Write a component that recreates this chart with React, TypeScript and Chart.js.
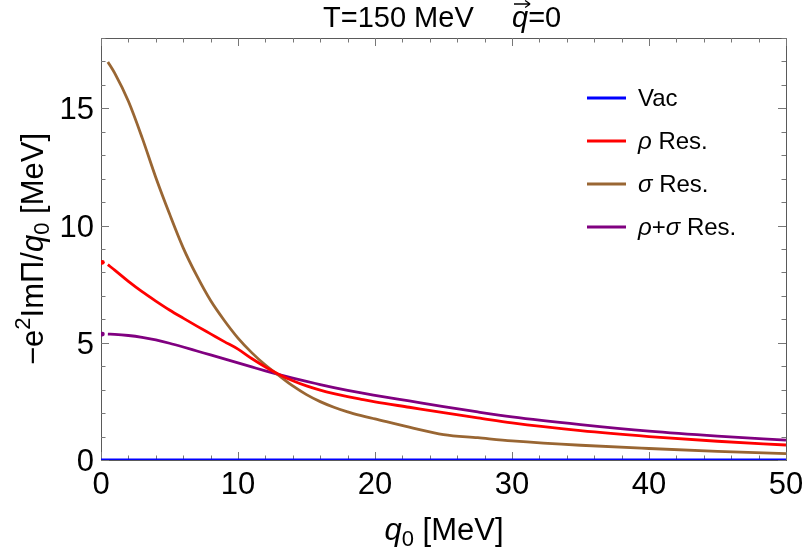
import React, { useEffect, useRef } from "react";
import { Chart, registerables } from "chart.js";

Chart.register(...registerables);

// ---------- data ----------
const q0Grid = [0.5, 1, 2, 3, 4, 5, 6, 7, 8, 9, 10, 11, 12, 13, 14, 15, 16, 17, 18, 19, 20, 22.5, 25, 27.5, 30, 35, 40, 45, 50];
const sigmaRes = [16.98, 16.5, 15.3, 13.75, 12.05, 10.5, 9.05, 7.85, 6.8, 5.95, 5.2, 4.58, 4.05, 3.6, 3.16, 2.79, 2.49, 2.25, 2.05, 1.89, 1.75, 1.4, 1.08, 0.95, 0.82, 0.63, 0.49, 0.37, 0.27];
const rhoRes = [8.33, 8.1, 7.62, 7.18, 6.78, 6.4, 6.05, 5.71, 5.38, 5.05, 4.73, 4.33, 3.97, 3.65, 3.38, 3.16, 2.98, 2.83, 2.7, 2.59, 2.48, 2.25, 2.02, 1.8, 1.58, 1.25, 1.0, 0.8, 0.64];
const rhoSigmaRes = [5.37, 5.36, 5.31, 5.23, 5.12, 4.98, 4.82, 4.65, 4.48, 4.31, 4.14, 3.97, 3.8, 3.64, 3.49, 3.35, 3.22, 3.09, 2.97, 2.86, 2.76, 2.52, 2.28, 2.05, 1.84, 1.51, 1.23, 1.02, 0.85];
const vacQ0 = [0, 50];
const vacVals = [0, 0];
// isolated values at q0 -> 0
const dotQ0 = 0.1;
const rhoDot = 8.43;
const rhoSigmaDot = 5.37;

const xTicks = [0, 10, 20, 30, 40, 50];
const yTicks = [0, 5, 10, 15];
const xMinorStep = 2;
const yMinorStep = 1;

type Seg = { t: string; i?: boolean; sup?: boolean; sub?: boolean };

const legendLabels: Seg[][] = [
  [{ t: "Vac" }],
  [{ t: "ρ", i: true }, { t: " Res." }],
  [{ t: "σ", i: true }, { t: " Res." }],
  [{ t: "ρ", i: true }, { t: "+" }, { t: "σ", i: true }, { t: " Res." }],
];

const COLORS = {
  vac: "#0000ff",
  rho: "#ff0000",
  sigma: "#996633",
  both: "#800080",
};

const FONT = "'Liberation Sans', Arial, sans-serif";

function segFont(s: Seg, size: number) {
  const sz = s.sup || s.sub ? Math.round(size * 0.7) : size;
  return `${s.i ? "italic " : ""}${sz}px ${FONT}`;
}

function measureRich(ctx: CanvasRenderingContext2D, segs: Seg[], size: number) {
  let w = 0;
  for (const s of segs) {
    ctx.font = segFont(s, size);
    w += ctx.measureText(s.t).width;
  }
  return w;
}

function drawRich(ctx: CanvasRenderingContext2D, segs: Seg[], x: number, y: number, size: number, align: "left" | "center") {
  const total = measureRich(ctx, segs, size);
  let cx = align === "center" ? x - total / 2 : x;
  ctx.textBaseline = "alphabetic";
  ctx.textAlign = "left";
  for (const s of segs) {
    ctx.font = segFont(s, size);
    let dy = 0;
    if (s.sup) dy = -size * 0.42;
    if (s.sub) dy = size * 0.2;
    ctx.fillText(s.t, cx, y + dy);
    cx += ctx.measureText(s.t).width;
  }
}

const TICK_SIZE = 31;

const decorPlugin = {
  id: "decor",
  beforeDatasetsDraw(chart: any) {
    const { ctx, chartArea } = chart;
    const { left, right, top, bottom } = chartArea;
    const xs = chart.scales.x;
    const ys = chart.scales.y;
    ctx.save();
    ctx.strokeStyle = "#5a5a5a";
    ctx.lineWidth = 1;
    ctx.strokeRect(left + 0.5, top + 0.5, right - left, bottom - top);
    ctx.strokeStyle = "#777";
    ctx.beginPath();
    for (let v = 0; v <= 50 + 1e-9; v += xMinorStep) {
      const px = Math.round(xs.getPixelForValue(v)) + 0.5;
      const major = Math.abs(v % 10) < 1e-9;
      const len = major ? 8 : 4.5;
      ctx.moveTo(px, bottom);
      ctx.lineTo(px, bottom - len);
      ctx.moveTo(px, top);
      ctx.lineTo(px, top + len);
    }
    for (let v = 0; v <= 18 + 1e-9; v += yMinorStep) {
      const py = Math.round(ys.getPixelForValue(v)) + 0.5;
      const major = Math.abs(v % 5) < 1e-9;
      const len = major ? 8 : 4.5;
      ctx.moveTo(left, py);
      ctx.lineTo(left + len, py);
      ctx.moveTo(right, py);
      ctx.lineTo(right - len, py);
    }
    ctx.stroke();
    ctx.restore();
  },
  afterDraw(chart: any) {
    const { ctx } = chart;
    const xs = chart.scales.x;
    const ys = chart.scales.y;
    ctx.save();
    ctx.fillStyle = "#000";

    // tick labels
    ctx.font = `${TICK_SIZE}px ${FONT}`;
    ctx.textBaseline = "alphabetic";
    ctx.textAlign = "center";
    for (const v of xTicks) {
      ctx.fillText(String(v), xs.getPixelForValue(v), 494);
    }
    ctx.textAlign = "right";
    for (const v of yTicks) {
      ctx.fillText(String(v), 94, ys.getPixelForValue(v) + 11);
    }

    // title
    const TS = 29;
    const ty = 27;
    ctx.textAlign = "left";
    ctx.font = `${TS}px ${FONT}`;
    ctx.fillText("T=150 MeV", 323, ty);
    const qx = 512;
    ctx.font = `italic ${TS}px ${FONT}`;
    ctx.fillText("q", qx, ty);
    const qw = ctx.measureText("q").width;
    ctx.font = `${TS}px ${FONT}`;
    ctx.fillText("=0", qx + qw, ty);
    // arrow over q
    ctx.strokeStyle = "#000";
    ctx.lineWidth = 1.3;
    const ay = ty - 23;
    ctx.beginPath();
    ctx.moveTo(qx + 2, ay);
    ctx.lineTo(qx + qw + 2, ay);
    ctx.moveTo(qx + qw + 2, ay);
    ctx.lineTo(qx + qw - 3, ay - 3.5);
    ctx.moveTo(qx + qw + 2, ay);
    ctx.lineTo(qx + qw - 3, ay + 3.5);
    ctx.stroke();

    // x axis title
    drawRich(ctx, [{ t: "q", i: true }, { t: "0", sub: true }, { t: " [MeV]" }], 444, 540, 31, "center");
    // y axis title
    ctx.save();
    ctx.translate(43, 249);
    ctx.rotate(-Math.PI / 2);
    drawRich(
      ctx,
      [
        { t: "−e" },
        { t: "2", sup: true },
        { t: "ImΠ/" },
        { t: "q", i: true },
        { t: "0", sub: true },
        { t: " [MeV]" },
      ],
      0,
      0,
      31,
      "center"
    );
    ctx.restore();

    // legend
    const colors = [COLORS.vac, COLORS.rho, COLORS.sigma, COLORS.both];
    const rows = [98, 141, 184, 227];
    for (let k = 0; k < 4; k++) {
      ctx.strokeStyle = colors[k];
      ctx.lineWidth = 3;
      ctx.beginPath();
      ctx.moveTo(587, rows[k]);
      ctx.lineTo(626, rows[k]);
      ctx.stroke();
      ctx.fillStyle = "#000";
      drawRich(ctx, legendLabels[k], 638, rows[k] + 8, 24, "left");
    }
    ctx.restore();
  },
};

function toPts(xs: number[], ys: number[]) {
  return xs.map((x, i) => ({ x, y: ys[i] }));
}

export default function App() {
  const ref = useRef<HTMLCanvasElement | null>(null);
  useEffect(() => {
    document.body.style.margin = "0";
    const canvas = ref.current!;
    const lineDs = (label: string, data: any[], color: string) => ({
      label,
      data,
      borderColor: color,
      backgroundColor: color,
      borderWidth: 2.8,
      pointRadius: 0,
      cubicInterpolationMode: "monotone" as const,
      fill: false,
    });
    const dotDs = (label: string, y: number, color: string) => ({
      label,
      data: [{ x: dotQ0, y }],
      showLine: false,
      pointRadius: 2.4,
      pointBorderWidth: 0,
      backgroundColor: color,
      borderColor: color,
    });
    const chart = new Chart(canvas, {
      type: "line",
      data: {
        datasets: [
          lineDs("Vac", toPts(vacQ0, vacVals), COLORS.vac),
          lineDs("ρ Res.", toPts(q0Grid, rhoRes), COLORS.rho),
          lineDs("σ Res.", toPts(q0Grid, sigmaRes), COLORS.sigma),
          lineDs("ρ+σ Res.", toPts(q0Grid, rhoSigmaRes), COLORS.both),
          dotDs("ρ Res. (q0→0)", rhoDot, COLORS.rho),
          dotDs("ρ+σ Res. (q0→0)", rhoSigmaDot, COLORS.both),
        ],
      },
      options: {
        animation: false,
        responsive: false,
        maintainAspectRatio: false,
        parsing: false as any,
        layout: { padding: { top: 38, right: 20, left: 0, bottom: 0 } },
        plugins: {
          legend: { display: false },
          title: { display: false },
          tooltip: { enabled: false },
        },
        scales: {
          x: {
            type: "linear",
            min: 0,
            max: 50,
            grid: { display: false, drawTicks: false },
            border: { display: false },
            ticks: { display: false },
            afterBuildTicks: (s: any) => {
              s.ticks = xTicks.map((v) => ({ value: v }));
            },
            afterFit: (s: any) => {
              s.height = 94;
            },
          },
          y: {
            type: "linear",
            min: 0,
            max: 18,
            grid: { display: false, drawTicks: false },
            border: { display: false },
            ticks: { display: false },
            afterBuildTicks: (s: any) => {
              s.ticks = yTicks.map((v) => ({ value: v }));
            },
            afterFit: (s: any) => {
              s.width = 101;
            },
          },
        },
      },
      plugins: [decorPlugin],
    });
    return () => chart.destroy();
  }, []);
  return (
    <div style={{ position: "fixed", left: 0, top: 0, width: 806, height: 554, background: "#fff" }}>
      <canvas ref={ref} width={806} height={554} style={{ display: "block" }} />
    </div>
  );
}
